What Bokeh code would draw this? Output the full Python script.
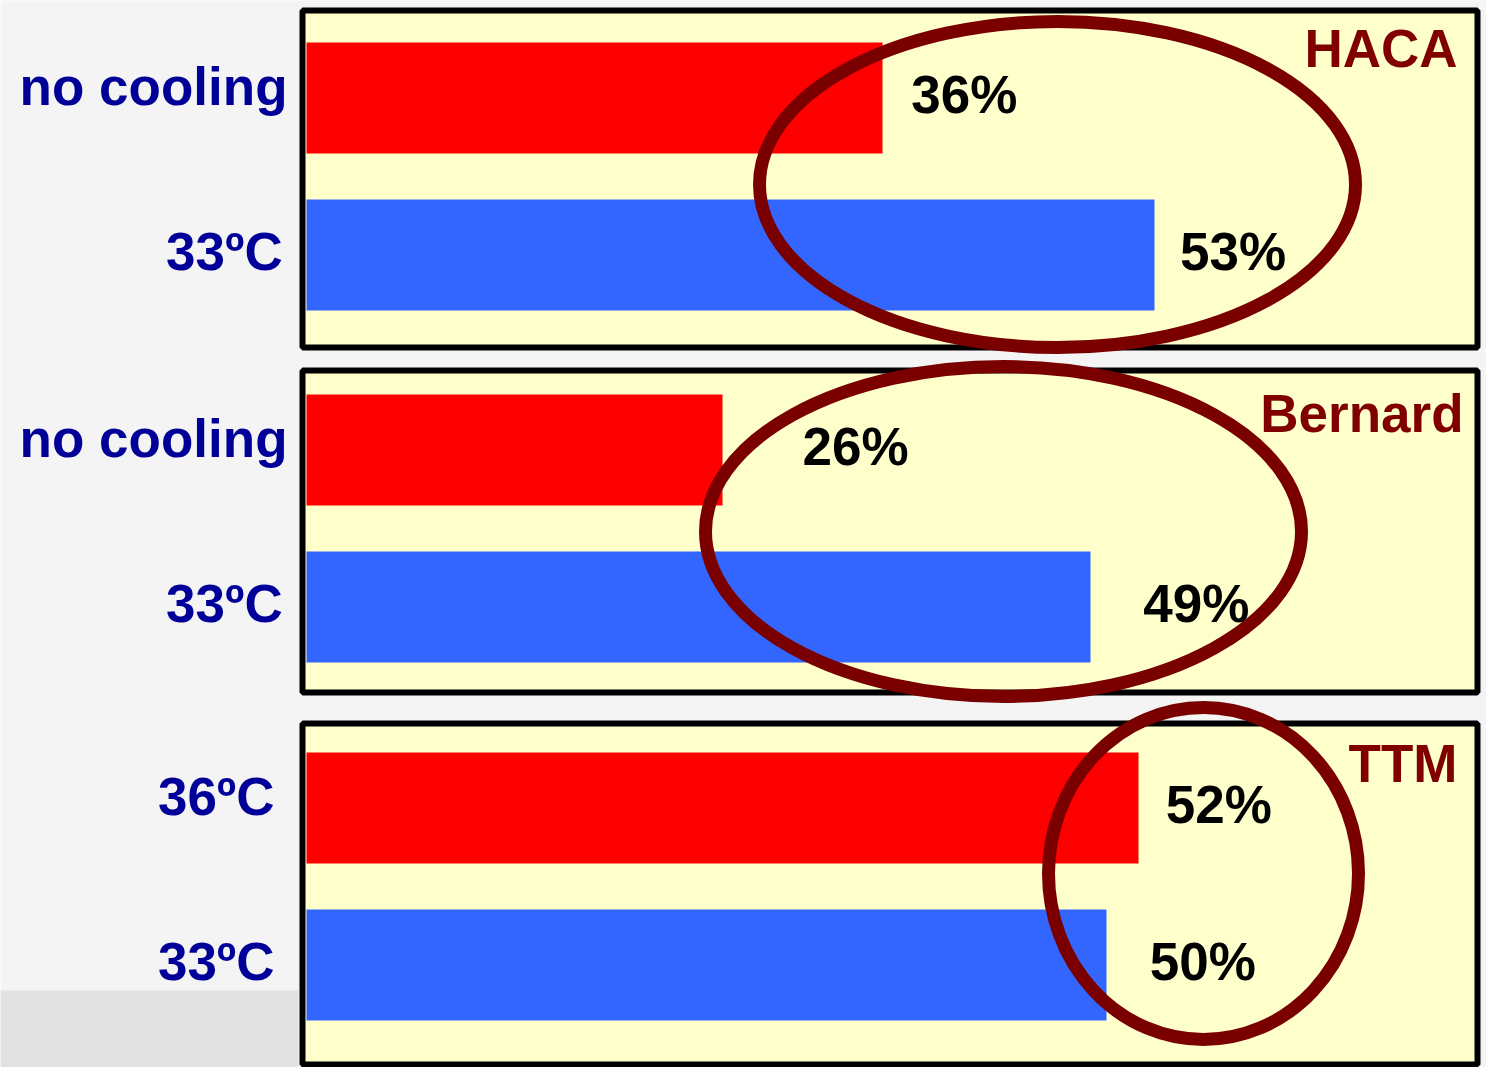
from bokeh.plotting import figure
from bokeh.models import Range1d
from bokeh.core.properties import value
from bokeh.embed import file_html
from bokeh.resources import INLINE

# data
panels = ["HACA", "Bernard", "TTM"]
top_labels = ["no cooling", "no cooling", "36ºC"]
bottom_labels = ["33ºC", "33ºC", "33ºC"]
top_values = [36, 26, 52]
bottom_values = [53, 49, 50]

FONT = value("Liberation Sans")
PX = 16.0  # pixels per percent
X0 = 306   # image x of 0 %
W, H = 1486, 1067


def px(x):
    return (x - X0) / PX


p = figure(width=W, height=H, output_backend="svg", toolbar_location=None,
           x_range=Range1d(px(0), px(W)), y_range=Range1d(H, 0),
           min_border=0, background_fill_color="#f4f4f4", border_fill_color="#f4f4f4")
p.axis.visible = False
p.grid.visible = False
p.outline_line_color = None

# slide backdrop detail
p.quad(left=[px(0)], right=[px(298)], top=[990], bottom=[H],
       fill_color="#e2e2e2", line_color=None)

boxes = [(10, 347), (370, 692), (723, 1064)]
bar_tops = [42, 394, 752]
ellipses = [(1057, 184, 596, 326), (1003, 531, 596, 330), (1203, 873, 310, 332)]
title_y = [48, 413, 763]
lab_off = [(1.8, 1.6), (5.0, 3.3), (1.7, 2.7)]

for i in range(3):
    t, b = boxes[i]
    p.quad(left=[px(302)], right=[px(1477)], top=[t], bottom=[b],
           fill_color="#ffffcc", line_color="black", line_width=6)
    y1 = bar_tops[i] + 55.5
    y2 = y1 + 157
    p.hbar(y=[y1], left=[0], right=[top_values[i]], height=111,
           fill_color="#ff0000", line_color=None)
    p.hbar(y=[y2], left=[0], right=[bottom_values[i]], height=111,
           fill_color="#3366ff", line_color=None)
    p.text(x=[top_values[i] + lab_off[i][0]], y=[y1 - 4], text=["%d%%" % top_values[i]],
           text_font=FONT, text_font_style="bold", text_font_size="53px",
           text_color="black", text_baseline="middle")
    p.text(x=[bottom_values[i] + lab_off[i][1]], y=[y2 - 4], text=["%d%%" % bottom_values[i]],
           text_font=FONT, text_font_style="bold", text_font_size="53px",
           text_color="black", text_baseline="middle")
    lx = px(287) if i < 2 else px(274)
    p.text(x=[lx, lx - (0.3 if i < 2 else 0)], y=[y1 - 12, y2 - 4],
           text=[top_labels[i], bottom_labels[i]],
           text_font=FONT, text_font_style="bold", text_font_size="53px",
           text_color="#000099", text_align="right", text_baseline="middle")
    p.text(x=[px(1457 if i != 1 else 1463)], y=[title_y[i]], text=[panels[i]],
           text_font=FONT, text_font_style="bold", text_font_size="53px",
           text_color="#800000", text_align="right", text_baseline="middle")
    cx, cy, w, h = ellipses[i]
    p.ellipse(x=[px(cx)], y=[cy], width=w / PX, height=h, fill_color=None,
              line_color="#7a0000", line_width=13)

open("out.html", "w").write(file_html(p, INLINE))
